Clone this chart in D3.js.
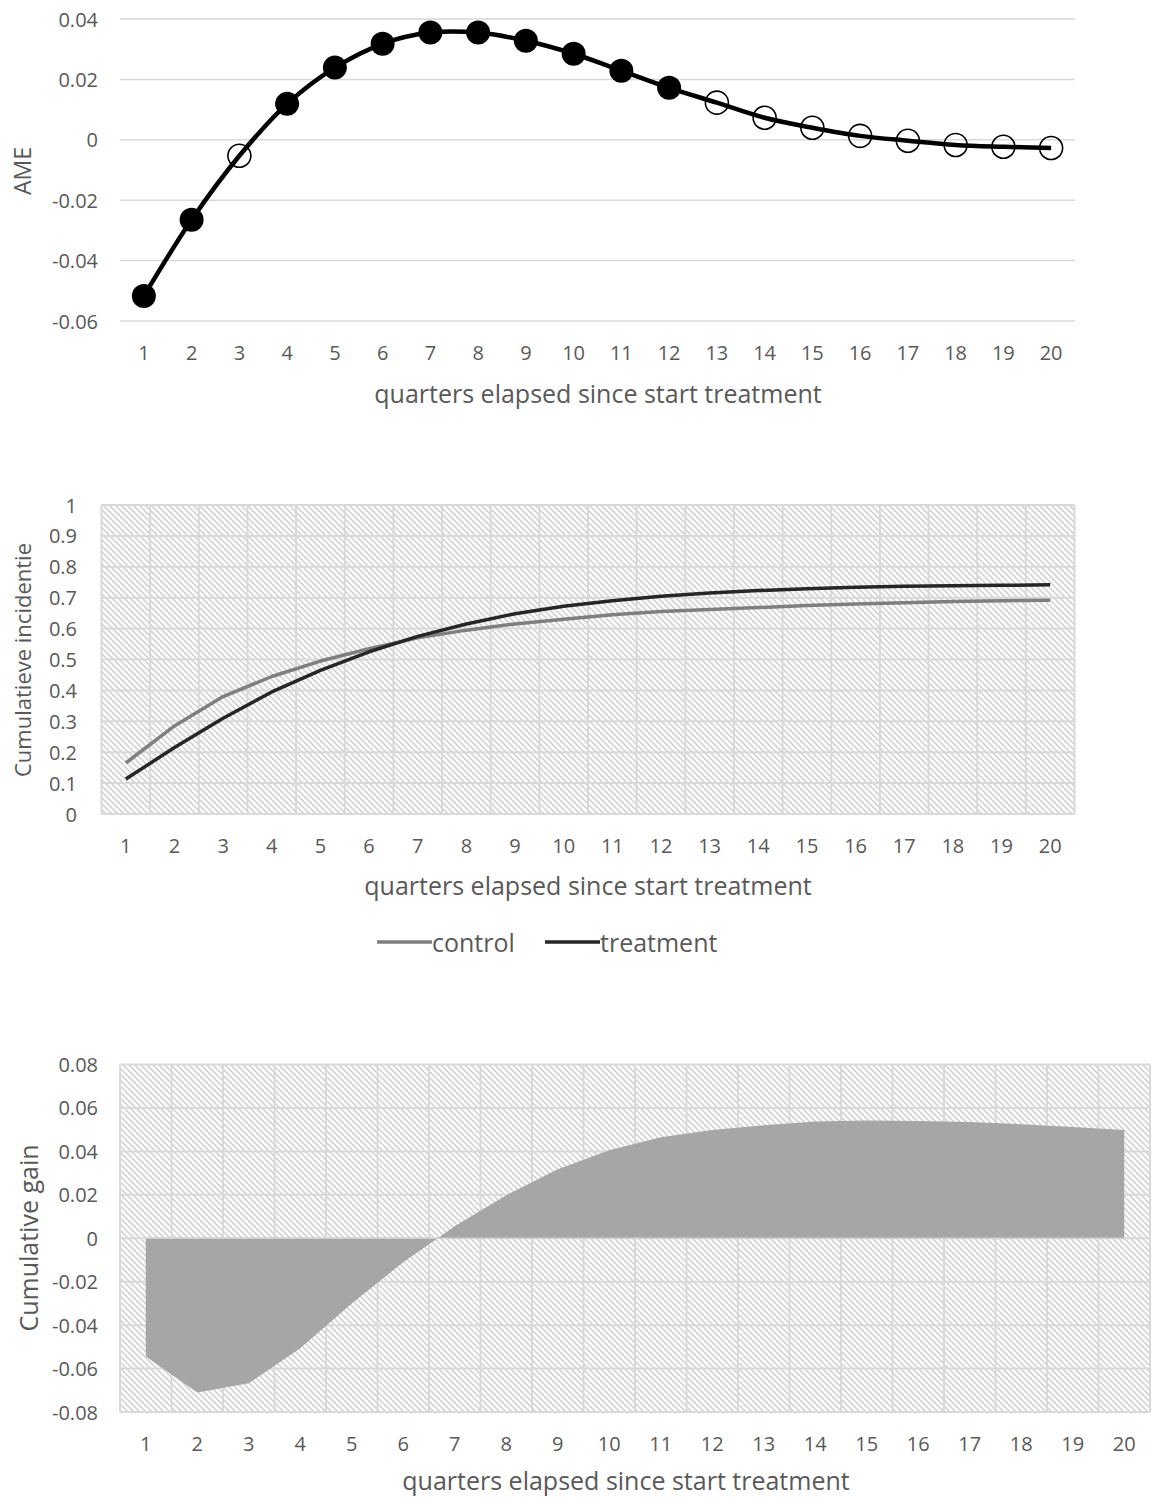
<!DOCTYPE html>
<html><head><meta charset="utf-8">
<script src="https://cdn.jsdelivr.net/npm/d3@7"></script>
<style>
body{margin:0;background:#fff;}
text{font-family:"Open Sans","Noto Sans",sans-serif;fill:#595959;}
</style></head><body>
<svg id="c" width="1153" height="1500"></svg>
<script>
const quarters = d3.range(1, 21).map(String);
// Chart 1: AME
const ameValues = [-0.0517,-0.0265,-0.0053,0.0119,0.0239,0.0318,0.0355,0.0355,0.0328,0.0285,0.0229,0.0172,0.0123,0.0073,0.0040,0.0013,-0.0003,-0.0017,-0.0023,-0.0027];
const ameSignificant = [1,1,0,1,1,1,1,1,1,1,1,1,0,0,0,0,0,0,0,0];
const ameTicks = [0.04,0.02,0,-0.02,-0.04,-0.06];
const ameTickLabels = ["0.04","0.02","0","-0.02","-0.04","-0.06"];
// Chart 2: cumulative incidence
const controlValues = [0.165,0.285,0.380,0.445,0.495,0.535,0.570,0.595,0.615,0.630,0.645,0.655,0.662,0.668,0.675,0.680,0.684,0.688,0.690,0.692];
const treatmentValues = [0.113,0.215,0.310,0.395,0.465,0.525,0.575,0.615,0.648,0.672,0.690,0.705,0.715,0.723,0.729,0.734,0.737,0.739,0.740,0.742];
const incTicks = [0,0.1,0.2,0.3,0.4,0.5,0.6,0.7,0.8,0.9,1];
const incTickLabels = ["0","0.1","0.2","0.3","0.4","0.5","0.6","0.7","0.8","0.9","1"];
const seriesNames = ["control","treatment"];
// Chart 3: cumulative gain
const gainValues = [-0.0544,-0.0710,-0.0668,-0.0507,-0.0300,-0.0110,0.0055,0.0198,0.0318,0.0405,0.0465,0.0498,0.0520,0.0537,0.0542,0.0540,0.0535,0.0525,0.0512,0.0498];
const gainTicks = [0.08,0.06,0.04,0.02,0,-0.02,-0.04,-0.06,-0.08];
const gainTickLabels = ["0.08","0.06","0.04","0.02","0","-0.02","-0.04","-0.06","-0.08"];
const xTitle = "quarters elapsed since start treatment";

const svg = d3.select("#c");
const grid = "#d9d9d9";
const defs = svg.append("defs");
const pat = defs.append("pattern").attr("id","hatch").attr("patternUnits","userSpaceOnUse")
  .attr("width",6).attr("height",6);
pat.append("rect").attr("width",6).attr("height",6).attr("fill","#fff");
pat.append("path").attr("d","M-1,-1 L7,7 M-1,5 L1,7 M5,-1 L7,1").attr("stroke","#d4d4d4").attr("stroke-width",1.6);

function xAxisLabels(g, x, y) {
  g.selectAll(null).data(quarters).join("text")
    .attr("x", d => x(d) + x.bandwidth()/2).attr("y", y)
    .attr("text-anchor","middle").attr("dominant-baseline","central")
    .attr("font-size",20).text(d => d);
}
function yAxisLabels(g, y, ticks, labels, xr) {
  g.selectAll(null).data(ticks).join("text")
    .attr("x", xr).attr("y", d => y(d))
    .attr("text-anchor","end").attr("dominant-baseline","central")
    .attr("font-size",20).text((d,i) => labels[i]);
}
function titleText(x, y, txt, rot, size) {
  const t = svg.append("text").attr("font-size",size).attr("text-anchor","middle")
    .attr("dominant-baseline","central").text(txt);
  if (rot) t.attr("transform",`translate(${x},${y}) rotate(-90)`);
  else t.attr("x",x).attr("y",y);
}

// ---------- Chart 1 ----------
{
  const x = d3.scaleBand().domain(quarters).range([120,1075]);
  const y = d3.scaleLinear().domain([-0.06,0.04]).range([321,19]);
  const g = svg.append("g");
  g.selectAll(null).data(ameTicks).join("line")
    .attr("x1",120).attr("x2",1075).attr("y1",d=>y(d)).attr("y2",d=>y(d))
    .attr("stroke",grid).attr("stroke-width",1.5);
  yAxisLabels(g, y, ameTicks, ameTickLabels, 98);
  xAxisLabels(g, x, 352);
  const cx = d => x(d) + x.bandwidth()/2;
  const line = d3.line().x((d,i)=>cx(quarters[i])).y(d=>y(d)).curve(d3.curveCatmullRom.alpha(0.5));
  g.append("path").attr("d", line(ameValues)).attr("fill","none").attr("stroke","#000").attr("stroke-width",4.5);
  g.selectAll(null).data(ameValues).join("circle")
    .attr("cx",(d,i)=>cx(quarters[i])).attr("cy",d=>y(d))
    .attr("r",(d,i)=>ameSignificant[i]?12:11.5)
    .attr("fill",(d,i)=>ameSignificant[i]?"#000":"none")
    .attr("stroke","#000").attr("stroke-width",(d,i)=>ameSignificant[i]?0:1.6);
  titleText(598, 393, xTitle, false, 25);
  titleText(22, 171, "AME", true, 23);
}

// ---------- Chart 2 ----------
{
  const x = d3.scaleBand().domain(quarters).range([101.5,1074.5]);
  const y = d3.scaleLinear().domain([0,1]).range([814,505]);
  const g = svg.append("g");
  g.append("rect").attr("x",101.5).attr("y",505).attr("width",973).attr("height",309).attr("fill","url(#hatch)");
  g.selectAll(null).data(incTicks).join("line")
    .attr("x1",101.5).attr("x2",1074.5).attr("y1",d=>y(d)).attr("y2",d=>y(d))
    .attr("stroke",grid).attr("stroke-width",2);
  const vb = quarters.map(q=>x(q)).concat([1074.5]);
  g.selectAll(null).data(vb).join("line")
    .attr("x1",d=>d).attr("x2",d=>d).attr("y1",505).attr("y2",814)
    .attr("stroke",grid).attr("stroke-width",2);
  yAxisLabels(g, y, incTicks, incTickLabels, 77);
  xAxisLabels(g, x, 845);
  const cx = i => x(quarters[i]) + x.bandwidth()/2;
  const line = d3.line().x((d,i)=>cx(i)).y(d=>y(d));
  g.append("path").attr("d", line(controlValues)).attr("fill","none").attr("stroke","#7f7f7f").attr("stroke-width",3.5).attr("stroke-linejoin","round");
  g.append("path").attr("d", line(treatmentValues)).attr("fill","none").attr("stroke","#262626").attr("stroke-width",3.5).attr("stroke-linejoin","round");
  titleText(588, 885, xTitle, false, 25);
  titleText(22, 660, "Cumulatieve incidentie", true, 22);
  // legend
  const leg = [{n:seriesNames[0],c:"#7f7f7f",x0:377},{n:seriesNames[1],c:"#262626",x0:545}];
  leg.forEach(l=>{
    svg.append("line").attr("x1",l.x0).attr("x2",l.x0+55).attr("y1",942).attr("y2",942)
      .attr("stroke",l.c).attr("stroke-width",3.5);
    svg.append("text").attr("x",l.x0+55).attr("y",942).attr("dominant-baseline","central")
      .attr("font-size",25).text(l.n);
  });
}

// ---------- Chart 3 ----------
{
  const x = d3.scaleBand().domain(quarters).range([120,1150]);
  const y = d3.scaleLinear().domain([-0.08,0.08]).range([1412,1064.5]);
  const g = svg.append("g");
  g.append("rect").attr("x",120).attr("y",1064.5).attr("width",1030).attr("height",347.5).attr("fill","url(#hatch)");
  g.selectAll(null).data(gainTicks).join("line")
    .attr("x1",120).attr("x2",1150).attr("y1",d=>y(d)).attr("y2",d=>y(d))
    .attr("stroke",grid).attr("stroke-width",2);
  const vb = quarters.map(q=>x(q)).concat([1150]);
  g.selectAll(null).data(vb).join("line")
    .attr("x1",d=>d).attr("x2",d=>d).attr("y1",1064.5).attr("y2",1412)
    .attr("stroke",grid).attr("stroke-width",2);
  const cx = i => x(quarters[i]) + x.bandwidth()/2;
  const area = d3.area().x((d,i)=>cx(i)).y0(y(0)).y1(d=>y(d));
  g.append("path").attr("d", area(gainValues)).attr("fill","#a6a6a6");
  g.append("line").attr("x1",cx(0)).attr("x2",cx(19)).attr("y1",y(0)).attr("y2",y(0))
    .attr("stroke","#d0d0d0").attr("stroke-width",1.5);
  yAxisLabels(g, y, gainTicks, gainTickLabels, 98);
  xAxisLabels(g, x, 1443);
  titleText(626, 1480, xTitle, false, 25);
  titleText(28, 1238, "Cumulative gain", true, 25);
}
</script>
</body></html>
